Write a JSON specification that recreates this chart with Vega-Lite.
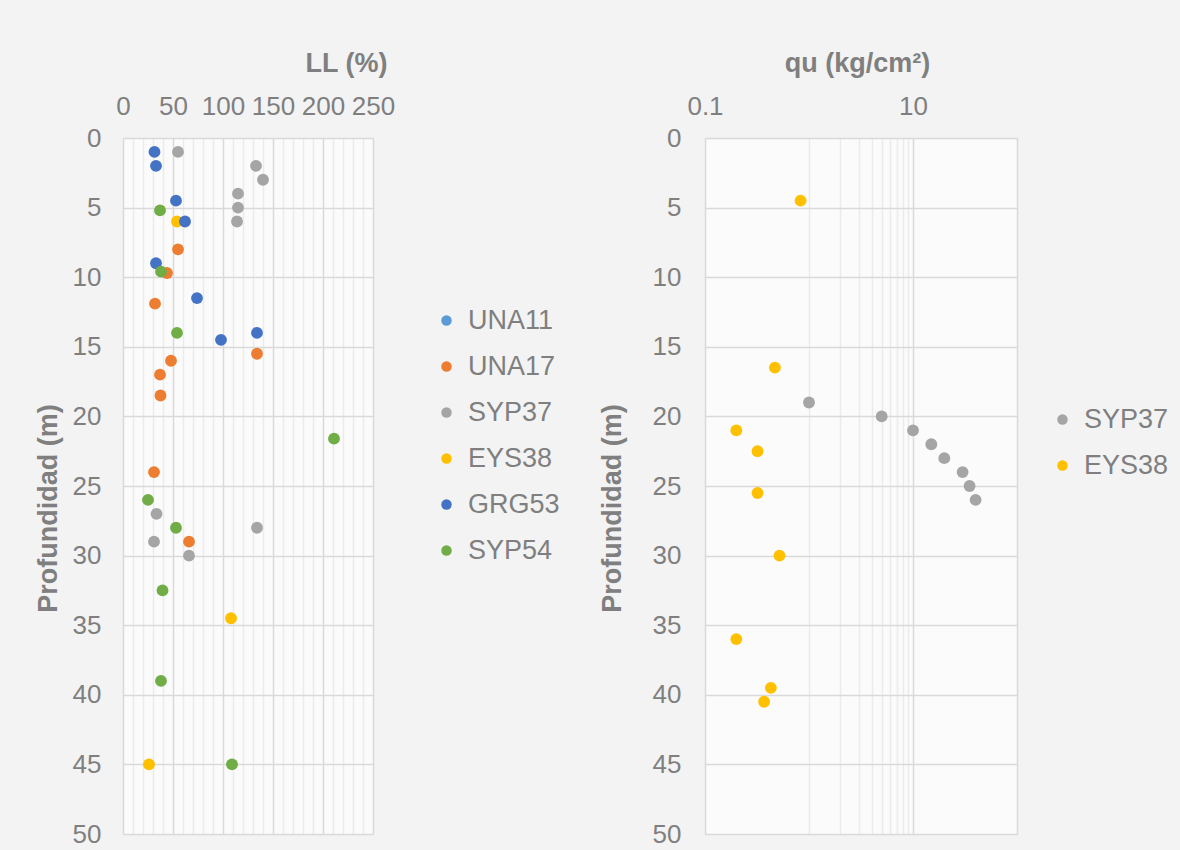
{
  "$schema": "https://vega.github.io/schema/vega-lite/v6.json",
  "background": "#f3f3f3",
  "padding": {"left": 34, "top": 49, "right": 14, "bottom": 4},
  "spacing": 38,
  "config": {
    "font": "Liberation Sans",
    "view": {"stroke": null, "fill": "#fbfbfb"},
    "axis": {
      "labelFont": "Liberation Sans", "labelColor": "#7f7f7f", "labelFontSize": 26,
      "titleFont": "Liberation Sans", "titleColor": "#7f7f7f", "titleFontSize": 27, "titleFontWeight": "bold",
      "domain": false, "ticks": false, "gridColor": "#d9d9d9", "gridOpacity": 1, "gridWidth": 1.5,
      "labelOverlap": false, "labelFlush": false
    },
    "legend": {
      "labelFont": "Liberation Sans", "labelColor": "#7f7f7f", "labelFontSize": 27,
      "symbolType": "circle", "symbolSize": 110, "symbolStrokeWidth": 0, "rowPadding": 18,
      "labelOffset": 8, "padding": 0, "labelLimit": 300
    }
  },
  "datasets": {
    "ll": [
      {"sondaje": "UNA17", "LL": 55, "prof": 8},
      {"sondaje": "UNA17", "LL": 44, "prof": 9.7},
      {"sondaje": "UNA17", "LL": 32, "prof": 11.9},
      {"sondaje": "UNA17", "LL": 134, "prof": 15.5},
      {"sondaje": "UNA17", "LL": 48, "prof": 16},
      {"sondaje": "UNA17", "LL": 37, "prof": 17},
      {"sondaje": "UNA17", "LL": 37.5, "prof": 18.5},
      {"sondaje": "UNA17", "LL": 31, "prof": 24},
      {"sondaje": "UNA17", "LL": 66, "prof": 29},
      {"sondaje": "SYP37", "LL": 55, "prof": 1},
      {"sondaje": "SYP37", "LL": 133, "prof": 2},
      {"sondaje": "SYP37", "LL": 140, "prof": 3},
      {"sondaje": "SYP37", "LL": 115, "prof": 4},
      {"sondaje": "SYP37", "LL": 115, "prof": 5},
      {"sondaje": "SYP37", "LL": 114, "prof": 6},
      {"sondaje": "SYP37", "LL": 33.5, "prof": 27},
      {"sondaje": "SYP37", "LL": 134, "prof": 28},
      {"sondaje": "SYP37", "LL": 31, "prof": 29},
      {"sondaje": "SYP37", "LL": 66, "prof": 30},
      {"sondaje": "EYS38", "LL": 54, "prof": 6},
      {"sondaje": "EYS38", "LL": 108, "prof": 34.5},
      {"sondaje": "EYS38", "LL": 26, "prof": 45},
      {"sondaje": "GRG53", "LL": 31.5, "prof": 1},
      {"sondaje": "GRG53", "LL": 33, "prof": 2},
      {"sondaje": "GRG53", "LL": 53, "prof": 4.5},
      {"sondaje": "GRG53", "LL": 62, "prof": 6},
      {"sondaje": "GRG53", "LL": 33, "prof": 9},
      {"sondaje": "GRG53", "LL": 74, "prof": 11.5},
      {"sondaje": "GRG53", "LL": 134, "prof": 14},
      {"sondaje": "GRG53", "LL": 98, "prof": 14.5},
      {"sondaje": "SYP54", "LL": 37, "prof": 5.2},
      {"sondaje": "SYP54", "LL": 38, "prof": 9.6},
      {"sondaje": "SYP54", "LL": 54, "prof": 14},
      {"sondaje": "SYP54", "LL": 211, "prof": 21.6},
      {"sondaje": "SYP54", "LL": 25, "prof": 26},
      {"sondaje": "SYP54", "LL": 53, "prof": 28},
      {"sondaje": "SYP54", "LL": 39.5, "prof": 32.5},
      {"sondaje": "SYP54", "LL": 38, "prof": 39},
      {"sondaje": "SYP54", "LL": 109, "prof": 45}
    ],
    "qu": [
      {"sondaje": "SYP37", "qu": 1.0, "prof": 19},
      {"sondaje": "SYP37", "qu": 5, "prof": 20},
      {"sondaje": "SYP37", "qu": 10, "prof": 21},
      {"sondaje": "SYP37", "qu": 15, "prof": 22},
      {"sondaje": "SYP37", "qu": 20, "prof": 23},
      {"sondaje": "SYP37", "qu": 30, "prof": 24},
      {"sondaje": "SYP37", "qu": 35, "prof": 25},
      {"sondaje": "SYP37", "qu": 40, "prof": 26},
      {"sondaje": "EYS38", "qu": 0.83, "prof": 4.5},
      {"sondaje": "EYS38", "qu": 0.47, "prof": 16.5},
      {"sondaje": "EYS38", "qu": 0.2, "prof": 21},
      {"sondaje": "EYS38", "qu": 0.32, "prof": 22.5},
      {"sondaje": "EYS38", "qu": 0.32, "prof": 25.5},
      {"sondaje": "EYS38", "qu": 0.52, "prof": 30},
      {"sondaje": "EYS38", "qu": 0.2, "prof": 36},
      {"sondaje": "EYS38", "qu": 0.43, "prof": 39.5},
      {"sondaje": "EYS38", "qu": 0.37, "prof": 40.5}
    ]
  },
  "hconcat": [
    {
      "width": 250,
      "height": 696,
      "data": {"name": "ll"},
      "mark": {"type": "point", "filled": true, "size": 140, "opacity": 1},
      "encoding": {
        "x": {
          "field": "LL", "type": "quantitative",
          "scale": {"domain": [0, 250], "nice": false, "zero": false},
          "axis": {
            "orient": "top", "title": "LL (%)",
            "values": [0, 10, 20, 30, 40, 50, 60, 70, 80, 90, 100, 110, 120, 130, 140, 150, 160, 170, 180, 190, 200, 210, 220, 230, 240, 250],
            "labelExpr": "datum.value % 50 === 0 ? datum.label : ''",
            "gridColor": {"condition": {"test": "datum.value % 50 === 0", "value": "#d9d9d9"}, "value": "#ebebeb"},
            "labelPadding": 19, "titlePadding": 16, "titleX": 223, "titleAnchor": null
          }
        },
        "y": {
          "field": "prof", "type": "quantitative",
          "scale": {"domain": [0, 50], "reverse": true, "nice": false, "zero": false},
          "axis": {"title": "Profundidad (m)", "values": [0, 5, 10, 15, 20, 25, 30, 35, 40, 45, 50], "labelPadding": 22, "titlePadding": 10, "titleY": 370}
        },
        "color": {
          "field": "sondaje", "type": "nominal",
          "scale": {"domain": ["UNA11", "UNA17", "SYP37", "EYS38", "GRG53", "SYP54"], "range": ["#5B9BD5", "#ED7D31", "#A5A5A5", "#FFC000", "#4472C4", "#70AD47"]},
          "legend": {"title": null, "orient": "none", "legendX": 310, "legendY": 169}
        }
      }
    },
    {
      "width": 312,
      "height": 696,
      "data": {"name": "qu"},
      "mark": {"type": "point", "filled": true, "size": 140, "opacity": 1},
      "encoding": {
        "x": {
          "field": "qu", "type": "quantitative",
          "scale": {"type": "log", "domain": [0.1, 100], "nice": false},
          "axis": {
            "orient": "top", "title": "qu (kg/cm²)",
            "values": [0.1, 1, 2, 3, 4, 5, 6, 7, 8, 9, 10, 100],
            "labelExpr": "datum.value === 0.1 ? '0.1' : (datum.value === 10 ? '10' : '')",
            "gridColor": {"condition": {"test": "datum.value === 0.1 || datum.value === 10 || datum.value === 100", "value": "#d9d9d9"}, "value": "#ebebeb"},
            "labelPadding": 19, "titlePadding": 16, "titleX": 152, "titleAnchor": null
          }
        },
        "y": {
          "field": "prof", "type": "quantitative",
          "scale": {"domain": [0, 50], "reverse": true, "nice": false, "zero": false},
          "axis": {"title": "Profundidad (m)", "values": [0, 5, 10, 15, 20, 25, 30, 35, 40, 45, 50], "labelPadding": 24, "titlePadding": 26, "titleY": 370}
        },
        "color": {
          "field": "sondaje", "type": "nominal",
          "scale": {"domain": ["SYP37", "EYS38"], "range": ["#A5A5A5", "#FFC000"]},
          "legend": {"title": null, "orient": "none", "legendX": 344, "legendY": 268}
        }
      }
    }
  ],
  "resolve": {"scale": {"color": "independent"}, "legend": {"color": "independent"}}
}
